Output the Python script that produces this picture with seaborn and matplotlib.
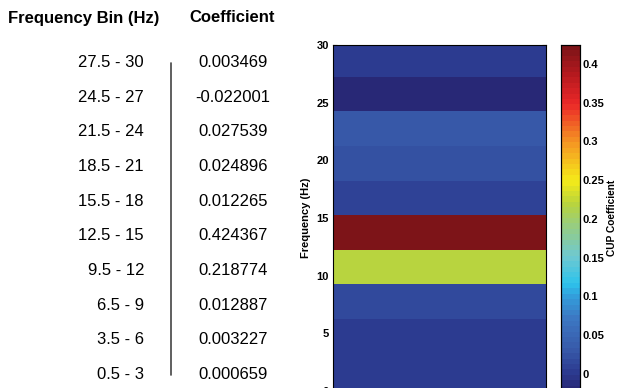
import numpy as np
import pandas as pd
import matplotlib
matplotlib.use("Agg")
import matplotlib.pyplot as plt
import seaborn as sns
from matplotlib.colors import LinearSegmentedColormap

# Data (top to bottom, as listed in the table)
bin_labels = ["27.5 - 30", "24.5 - 27", "21.5 - 24", "18.5 - 21", "15.5 - 18",
              "12.5 - 15", "9.5 - 12", "6.5 - 9", "3.5 - 6", "0.5 - 3"]
coef_labels = ["0.003469", "-0.022001", "0.027539", "0.024896", "0.012265",
               "0.424367", "0.218774", "0.012887", "0.003227", "0.000659"]
coefs = [0.003469, -0.022001, 0.027539, 0.024896, 0.012265,
         0.424367, 0.218774, 0.012887, 0.003227, 0.000659]
freq_ticks = [0, 5, 10, 15, 20, 25, 30]
cbar_ticks = [0, 0.05, 0.1, 0.15, 0.2, 0.25, 0.3, 0.35, 0.4]

vmin, vmax = min(coefs), max(coefs)

# muted jet-like colormap, as in the printed figure
anchors = [(vmin, (40, 40, 118)), (0.0, (44, 60, 145)), (0.03, (56, 90, 170)),
           (0.07, (60, 120, 195)), (0.1, (50, 160, 220)), (0.115, (45, 195, 235)),
           (0.15, (110, 200, 210)), (0.19, (150, 205, 130)), (0.22, (185, 212, 60)),
           (0.25, (245, 235, 25)), (0.3, (245, 150, 35)), (0.35, (235, 40, 40)),
           (0.39, (180, 25, 30)), (vmax, (125, 20, 24))]
cmap = LinearSegmentedColormap.from_list(
    "muted_jet",
    [((v - vmin) / (vmax - vmin), tuple(c / 255 for c in rgb)) for v, rgb in anchors],
    N=64)

sns.set_style("white")
plt.rcParams["font.family"] = ["Liberation Sans", "DejaVu Sans"]
plt.rcParams["text.color"] = "black"
plt.rcParams["axes.labelcolor"] = "black"
plt.rcParams["ytick.color"] = "black"

W, H = 619, 388
fig = plt.figure(figsize=(W / 100, H / 100), dpi=100)

def fx(px):
    return px / W

def fy(py):
    return 1 - py / H

# heatmap + colorbar axes (bottom edge falls just below the image, as cropped)
y_top, y_bot = 45, 391
ax = fig.add_axes([fx(333), fy(y_bot), fx(546) - fx(333), fy(y_top) - fy(y_bot)])
cax = fig.add_axes([fx(561), fy(y_bot), fx(580) - fx(561), fy(y_top) - fy(y_bot)])

df = pd.DataFrame({"CUP": coefs}, index=bin_labels)
sns.heatmap(df, ax=ax, cbar_ax=cax, cmap=cmap, vmin=vmin, vmax=vmax,
            xticklabels=False, yticklabels=False)

# cell edges sit at 0.25 + 3k Hz; map frequency to row position
top_edge = 30.25
ax.set_ylim((top_edge - 0) / 3, (top_edge - 30) / 3)
ax.set_yticks([(top_edge - f) / 3 for f in freq_ticks])
ax.set_yticklabels([str(f) for f in freq_ticks], fontsize=8, fontweight="bold")
ax.tick_params(axis="y", left=True, right=True, direction="in", length=3, width=0.8, pad=3)
ax.tick_params(axis="x", bottom=False)
ax.set_ylabel("Frequency (Hz)", fontsize=8, fontweight="bold", labelpad=4)
ax.set_xlabel("")
for s in ax.spines.values():
    s.set_visible(True)
    s.set_color("black")
    s.set_linewidth(0.8)

cax.set_yticks(cbar_ticks)
cax.set_yticklabels(["%g" % t for t in cbar_ticks], fontsize=8, fontweight="bold")
cax.tick_params(axis="y", left=True, right=True, direction="in", length=3, width=0.8, pad=2)
cax.set_ylabel("CUP Coefficient", fontsize=7.3, fontweight="bold", labelpad=2)
for s in cax.spines.values():
    s.set_visible(True)
    s.set_color("black")
    s.set_linewidth(0.8)

# table on the left
fig.text(fx(8), fy(18), "Frequency Bin (Hz)", fontsize=12, fontweight="bold", ha="left", va="center")
fig.text(fx(232), fy(18), "Coefficient", fontsize=12, fontweight="bold", ha="center", va="center")
row_y = [62.7 + 34.65 * i for i in range(len(bin_labels))]
for y, b, c in zip(row_y, bin_labels, coef_labels):
    fig.text(fx(144), fy(y), b, fontsize=12, ha="right", va="center")
    fig.text(fx(233), fy(y), c, fontsize=12, ha="center", va="center")
fig.add_artist(plt.Line2D([fx(171), fx(171)], [fy(63), fy(375)], color="#444444", lw=1.2))

fig.savefig("out.png", dpi=100)
